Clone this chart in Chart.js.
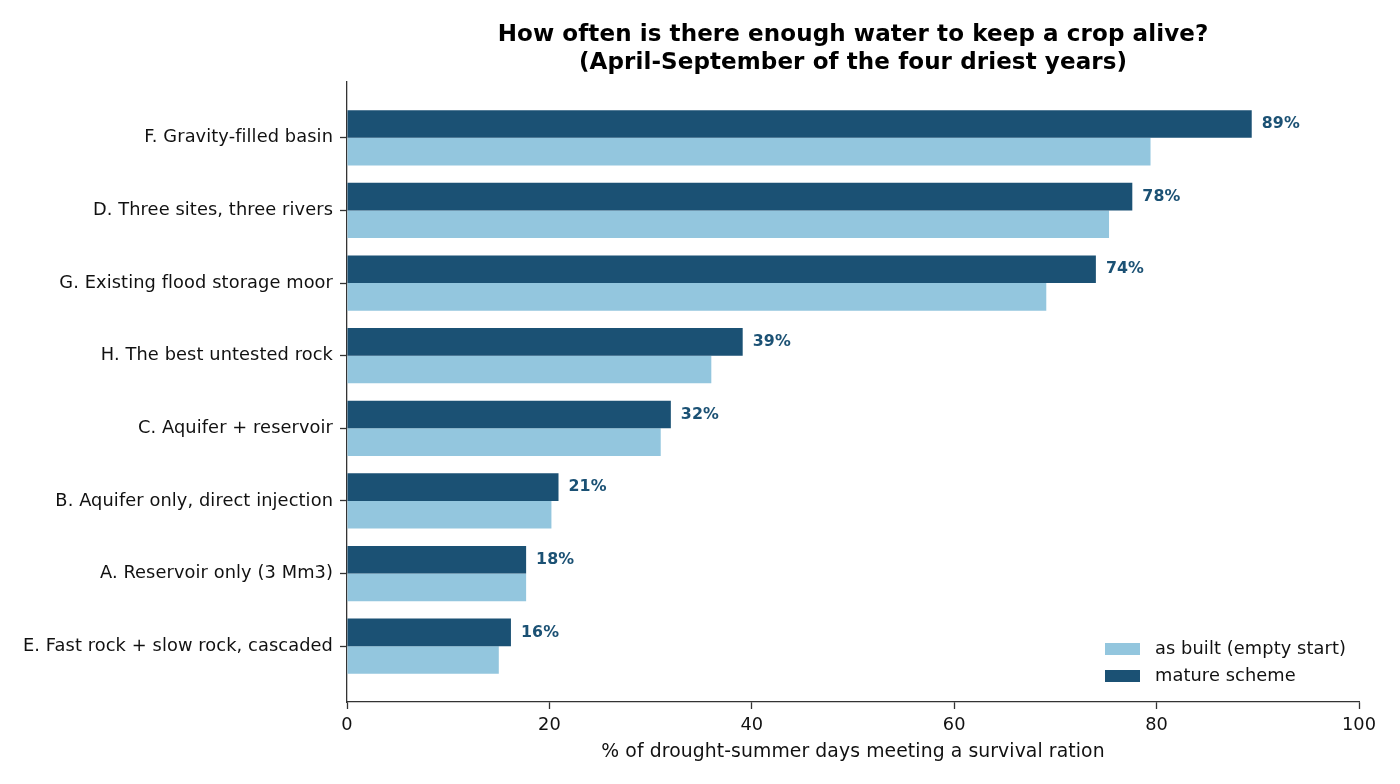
<!DOCTYPE html>
<html><head><meta charset="utf-8">
<script src="https://cdn.jsdelivr.net/npm/chart.js@4/dist/chart.umd.min.js"></script>
<style>html,body{margin:0;padding:0;background:#fff;font-family:'DejaVu Sans'}#wrap{width:1400px;height:784px}</style>
</head><body><div id="wrap"><canvas id="c" width="1400" height="784"></canvas></div>
<script>
const categories = [
  "F. Gravity-filled basin",
  "D. Three sites, three rivers",
  "G. Existing flood storage moor",
  "H. The best untested rock",
  "C. Aquifer + reservoir",
  "B. Aquifer only, direct injection",
  "A. Reservoir only (3 Mm3)",
  "E. Fast rock + slow rock, cascaded"
];
const asBuilt = [79.4, 75.3, 69.1, 36.0, 31.0, 20.2, 17.7, 15.0];
const mature  = [89.4, 77.6, 74.0, 39.1, 32.0, 20.9, 17.7, 16.2];
const xTicks = [0, 20, 40, 60, 80, 100];
const seriesNames = ["as built (empty start)", "mature scheme"];
const titleLines = ["How often is there enough water to keep a crop alive?", "(April-September of the four driest years)"];
const xTitle = "% of drought-summer days meeting a survival ration";

const DARK = "#1b5174";
const LIGHT = "#93c6de";
const AXIS = "#333333";
const TEXT = "#111111";
const FONT = "'DejaVu Sans', sans-serif";

Chart.defaults.font.family = FONT;
Chart.defaults.color = TEXT;

const noLigatures = {
  id: 'noLigatures',
  beforeDraw(chart) { try { chart.ctx.letterSpacing = '0.1px'; } catch (e) {} }
};

const valueLabels = {
  id: 'valueLabels',
  afterDatasetsDraw(chart) {
    const ctx = chart.ctx;
    const meta = chart.getDatasetMeta(0);
    ctx.save();
    ctx.font = "bold 15.8px " + FONT;
    ctx.fillStyle = DARK;
    ctx.textAlign = 'left';
    ctx.textBaseline = 'middle';
    meta.data.forEach((el, i) => {
      ctx.fillText(Math.round(mature[i]) + '%', el.x + 10, el.y);
    });
    ctx.restore();
  }
};

const innerLegend = {
  id: 'innerLegend',
  afterDraw(chart) {
    const ctx = chart.ctx;
    const a = chart.chartArea;
    const items = [
      {label: chart.data.datasets[1].label, color: chart.data.datasets[1].backgroundColor},
      {label: chart.data.datasets[0].label, color: chart.data.datasets[0].backgroundColor}
    ];
    ctx.save();
    ctx.font = "17.8px " + FONT;
    ctx.textAlign = 'left';
    ctx.textBaseline = 'middle';
    items.forEach((it, k) => {
      const cy = a.bottom - 53 + k * 27;
      const bx = a.right - 254;
      ctx.fillStyle = it.color;
      ctx.fillRect(bx, cy - 6, 35, 12);
      ctx.fillStyle = TEXT;
      ctx.fillText(it.label, bx + 50, cy);
    });
    ctx.restore();
  }
};

function draw() {
  new Chart(document.getElementById('c'), {
    type: 'bar',
    data: {
      datasets: [
        { label: seriesNames[1], data: mature.map((v, i) => ({x: v, y: i})), backgroundColor: DARK },
        { label: seriesNames[0], data: asBuilt.map((v, i) => ({x: v, y: i})), backgroundColor: LIGHT }
      ]
    },
    options: {
      indexAxis: 'y',
      responsive: false,
      animation: false,
      events: [],
      barPercentage: 1,
      categoryPercentage: 0.76,
      layout: { padding: { left: 0, right: 41, top: 0, bottom: 0 } },
      plugins: {
        legend: { display: false },
        tooltip: { enabled: false },
        title: {
          display: true,
          fullSize: false,
          text: titleLines,
          color: '#000',
          font: { size: 23, weight: 'bold', lineHeight: 1.2174 },
          padding: { top: 21, bottom: 5 }
        }
      },
      scales: {
        y: {
          type: 'linear',
          reverse: true,
          offset: false,
          min: -0.768,
          max: 7.768,
          afterBuildTicks: (axis) => { axis.ticks = categories.map((_, i) => ({value: i})); },
          afterFit: (s) => { s.width = 347; },
          ticks: {
            autoSkip: false,
            padding: 7,
            color: TEXT,
            font: { size: 17.8 },
            callback: (v) => categories[v]
          },
          grid: { offset: false, drawOnChartArea: false, drawTicks: true, tickLength: 7, tickColor: AXIS, tickWidth: 1.3 },
          border: { display: true, color: AXIS, width: 1.3 }
        },
        x: {
          type: 'linear',
          min: 0,
          max: 100,
          afterBuildTicks: (axis) => { axis.ticks = xTicks.map(v => ({value: v})); },
          afterFit: (s) => { s.height = 82; },
          ticks: { autoSkip: false, padding: 6, color: TEXT, font: { size: 17.8 } },
          grid: { drawOnChartArea: false, drawTicks: true, tickLength: 7, tickColor: AXIS, tickWidth: 1.3 },
          border: { display: true, color: AXIS, width: 1.3 },
          title: {
            display: true,
            text: xTitle,
            color: TEXT,
            font: { size: 18.8 },
            padding: { top: 4, bottom: 21 }
          }
        }
      }
    },
    plugins: [noLigatures, valueLabels, innerLegend]
  });
}

if (document.fonts && document.fonts.load) {
  Promise.all([
    document.fonts.load("17.8px 'DejaVu Sans'"),
    document.fonts.load("bold 23px 'DejaVu Sans'")
  ]).then(draw, draw);
} else { draw(); }
</script>
</body></html>
